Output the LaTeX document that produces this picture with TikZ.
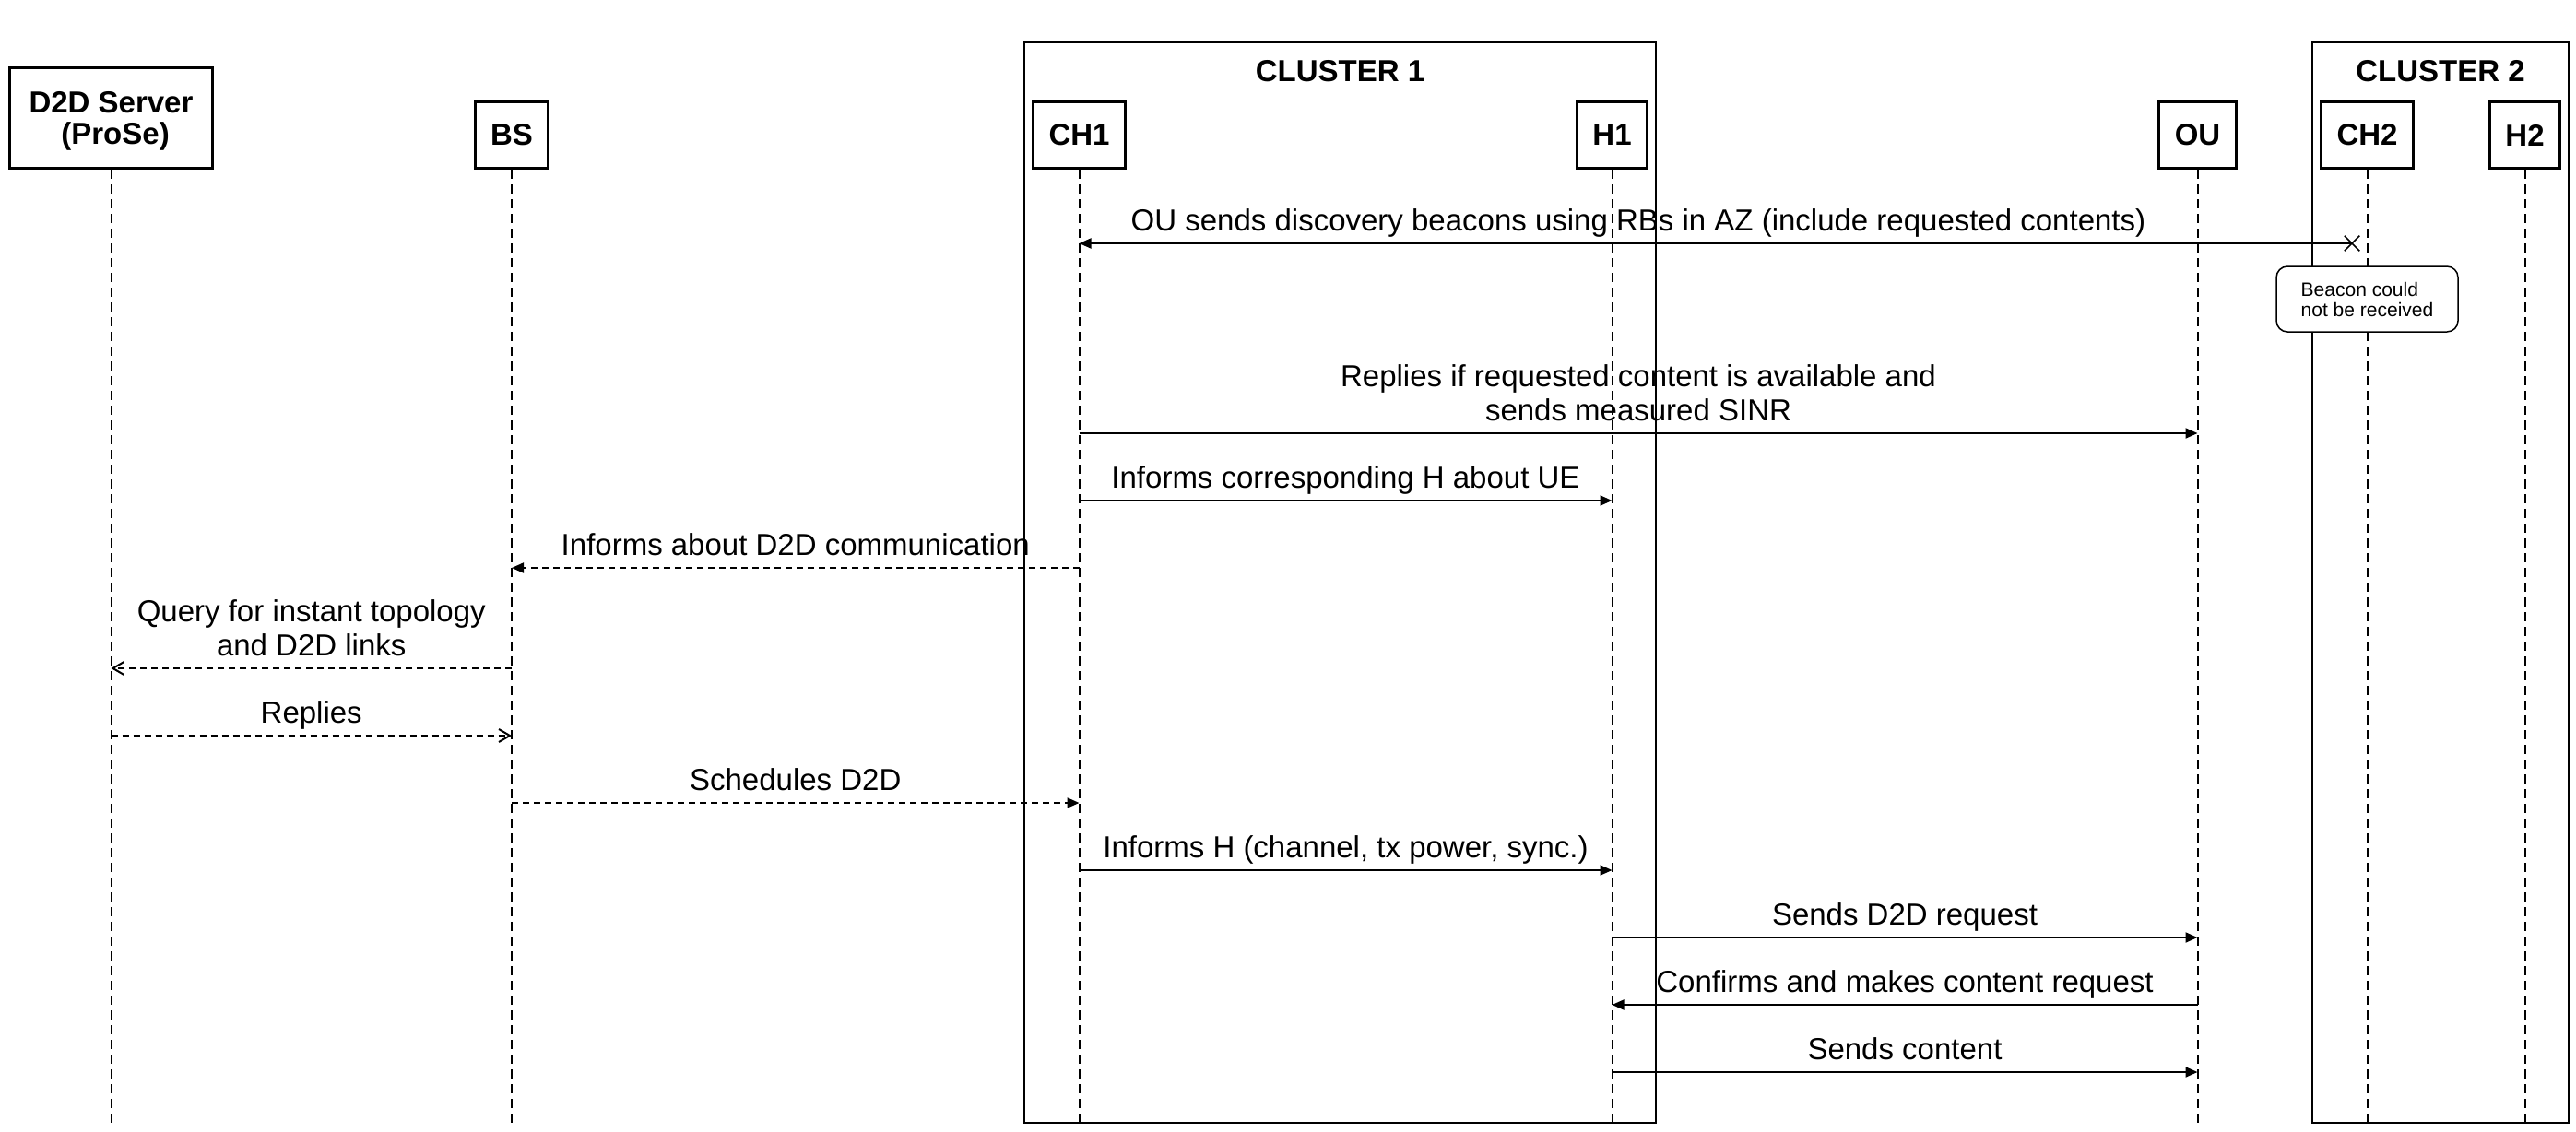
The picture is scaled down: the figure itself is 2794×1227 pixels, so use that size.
\documentclass[tikz,border=0pt]{standalone}
\usepackage{fontspec}
\setmainfont{Liberation Sans}
\usetikzlibrary{arrows.meta,shapes.misc}
\tikzset{
  actor/.style={draw,line width=3pt,inner xsep=17pt,inner ysep=0pt,minimum height=72pt,
    anchor=south,align=center,font=\fontsize{33}{37}\selectfont\bfseries},
  lifeline/.style={line width=2pt,dash pattern=on 10pt off 6pt},
  frame/.style={line width=1.5pt},
  msg/.style={line width=2pt,-{Triangle[length=13pt,width=11pt]}},
  dmsg/.style={msg,dash pattern=on 7pt off 5pt},
  ret/.style={line width=2pt,dash pattern=on 7pt off 5pt,-{Straight Barb[length=12pt,width=14pt]}},
  lbl/.style={font=\fontsize{33}{37}\selectfont,align=center,inner sep=0pt,text depth=0pt,above=13pt},
  note/.style={draw,fill=white,line width=1.5pt,rounded corners=12pt,minimum width=197pt,
    minimum height=71pt,align=left,font=\fontsize{21}{22}\selectfont}
}
\begin{document}
\begin{tikzpicture}[x=1pt,y=-1pt]
\useasboundingbox (0,0) rectangle (2794,1227);
% clusters
\draw[frame] (1111,46) rectangle (1796,1218);
\draw[frame] (2508,46) rectangle (2786,1218);
\node[font=\fontsize{33}{37}\selectfont\bfseries] (c1) at (1453.5,77) {CLUSTER 1};
\node[font=\fontsize{33}{37}\selectfont\bfseries] (c2) at (2647,77) {CLUSTER 2};
% participants
\node[actor,minimum height=109pt,minimum width=220pt,text depth=0pt,
  font=\fontsize{33}{34}\selectfont\bfseries] (srv) at (120.5,184) {D2D Server\\\ (ProSe)};
\node[actor] (BS) at (555,184) {BS};
\node[actor] (CH1) at (1170.5,184) {CH1};
\node[actor] (H1) at (1748.5,184) {H1};
\node[actor] (OU) at (2383.5,184) {OU};
\node[actor] (CH2) at (2567.5,184) {CH2};
\node[actor] (H2) at (2738.5,184) {H2};
\coordinate (bot) at (0,1218);
\foreach \p in {srv,BS,CH1,H1,OU,CH2,H2}
  \draw[lifeline] (\p.south) -- (\p.south |- bot);
% messages
\coordinate (m1) at (0,264);
\coordinate (m2) at (0,470);
\coordinate (m3) at (0,543);
\coordinate (m4) at (0,616);
\coordinate (m5) at (0,725);
\coordinate (m6) at (0,798);
\coordinate (m7) at (0,871);
\coordinate (m8) at (0,944);
\coordinate (m9) at (0,1017);
\coordinate (m10) at (0,1090);
\coordinate (m11) at (0,1163);
\node[cross out,draw,line width=1.5pt,minimum size=15pt,inner sep=0pt] (lost) at (2551,264) {};
\draw[line width=2pt] (OU |- m1) -- (lost.center);
\path
  (OU |- m1) edge[msg] node[lbl] {OU sends discovery beacons using RBs in AZ (include requested contents)} (CH1 |- m1)
  (CH1 |- m2) edge[msg] node[lbl] {Replies if requested content is available and\\sends measured SINR} (OU |- m2)
  (CH1 |- m3) edge[msg] node[lbl] {Informs corresponding H about UE} (H1 |- m3)
  (CH1 |- m4) edge[dmsg] node[lbl] {Informs about D2D communication} (BS |- m4)
  (BS |- m5) edge[ret] node[lbl] {Query for instant topology\\and D2D links} (srv |- m5)
  (srv |- m6) edge[ret] node[lbl] {Replies} (BS |- m6)
  (BS |- m7) edge[dmsg] node[lbl] {Schedules D2D} (CH1 |- m7)
  (CH1 |- m8) edge[msg] node[lbl] {Informs H (channel, tx power, sync.)} (H1 |- m8)
  (H1 |- m9) edge[msg] node[lbl] {Sends D2D request} (OU |- m9)
  (OU |- m10) edge[msg] node[lbl] {Confirms and makes content request} (H1 |- m10)
  (H1 |- m11) edge[msg] node[lbl] {Sends content} (OU |- m11)
;
\node[note] (nt) at (2567.5,324.5) {Beacon could\\not be received};
\end{tikzpicture}
\end{document}
